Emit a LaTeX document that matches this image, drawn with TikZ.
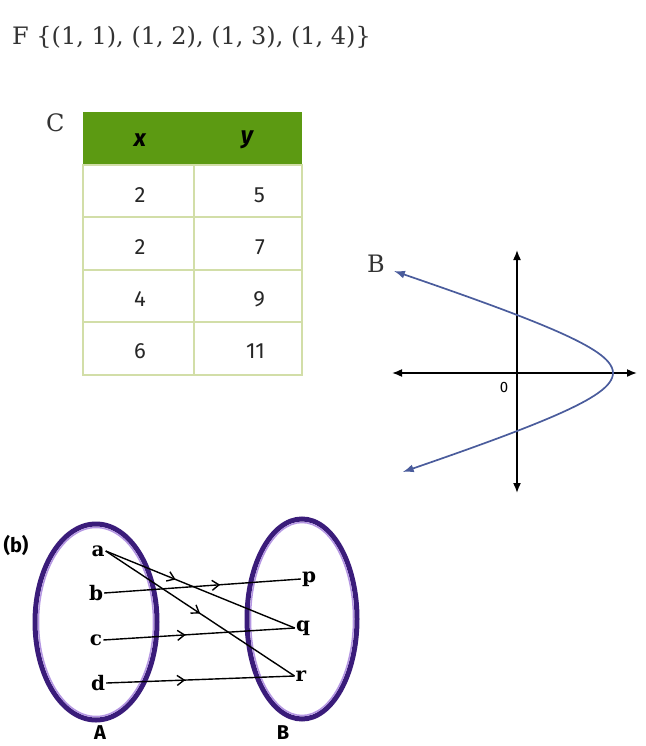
\documentclass[tikz,border=0pt]{standalone}
\usepackage{fontspec}
\setmainfont{DejaVu Serif}
\setsansfont{Fira Sans}
\usepackage{xcolor}
\usetikzlibrary{arrows.meta, positioning, decorations.markings}

\definecolor{inkgray}{HTML}{333333}
\definecolor{headgreen}{HTML}{5C9A12}
\definecolor{gridgreen}{HTML}{D2DEA8}
\definecolor{curveblue}{HTML}{4A5C9C}
\definecolor{setpurple}{HTML}{3A1C7A}
\definecolor{setlilac}{HTML}{B496E2}

\begin{document}
\begin{tikzpicture}[
  x=1pt, y=-1pt,
  serifbig/.style={font=\fontsize{24}{28}\selectfont, text=inkgray, inner sep=0pt},
  cellnum/.style={font=\sffamily\fontsize{22}{24}\selectfont, text=black!85, inner sep=0pt},
  cellhead/.style={font=\sffamily\bfseries\itshape\fontsize{24}{26}\selectfont, inner sep=0pt},
  axis/.style={line width=1.6pt, {Latex[length=10pt,width=8pt]}-{Latex[length=10pt,width=8pt]}},
  elem/.style={font=\bfseries\fontsize{20}{22}\selectfont, inner sep=1pt},
  setname/.style={font=\sffamily\bfseries\fontsize{20}{22}\selectfont, inner sep=0pt},
  maps/.style={line width=1.4pt, postaction={decorate},
    decoration={markings, mark=at position #1 with {\arrow{Straight Barb[length=7pt,width=10pt]}}}}
]
\useasboundingbox (0,0) rectangle (645,746);

% set F
\node[serifbig, anchor=base west] (setF) at (12,45) {F \{(1, 1), (1, 2), (1, 3), (1, 4)\}};

% table C
\node[serifbig, anchor=base west] (labC) at (46,132) {C};
\fill[headgreen] (83,112) rectangle (302,165);
\draw[gridgreen, line width=1.2pt] (83,165) rectangle (302,375);
\foreach \yy in {217,270,322} \draw[gridgreen, line width=1.2pt] (83,\yy) -- (302,\yy);
\draw[gridgreen, line width=1.2pt] (194,165) -- (194,375);
\node[cellhead] (hx) at (140,140) {x};
\node[cellhead] (hy) at (247,140) {y};
\foreach \xv/\yv/\yy [count=\i] in {2/5/195, 2/7/247, 4/9/299, 6/11/351} {
  \node[cellnum] (xv\i) at (140,\yy) {\xv};
  \node[cellnum, anchor=east] (yv\i) at (265,\yy) {\yv};
}

% graph B
\node[serifbig, anchor=base west] (labB) at (367,272) {B};
\draw[axis] (392,373) -- (637,373);
\draw[axis] (517,250) -- (517,493);
\node[font=\sffamily\fontsize{15}{16}\selectfont, inner sep=0pt] (orig) at (504,387) {0};
\draw[curveblue, line width=1.7pt, {Latex[length=11pt,width=8pt]}-{Latex[length=11pt,width=8pt]}]
  plot[domain=-102:99, samples=80, variable=\t] ({613-126*(sqrt(1+(\t/40)^2)-1)}, {373+\t});

% mapping (b)
\node[font=\sffamily\bfseries\fontsize{20}{22}\selectfont, inner sep=0pt] (partb) at (16,545) {(b)};
\draw[setpurple, line width=5pt] (96,622) ellipse [x radius=61, y radius=98];
\draw[setlilac, line width=1.5pt] (96,622) ellipse [x radius=57.5, y radius=94.5];
\draw[setpurple, line width=5pt] (302,619) ellipse [x radius=55, y radius=100];
\draw[setlilac, line width=1.5pt] (302,619) ellipse [x radius=51.5, y radius=96.5];
\node[setname] (nameA) at (100,733) {A};
\node[setname] (nameB) at (283,733) {B};

\node[elem] (a) at (98,551) {a};
\node[elem] (b) at (96,593) {b};
\node[elem] (c) at (96,640) {c};
\node[elem] (d) at (98,683) {d};
\node[elem] (p) at (309,579) {p};
\node[elem] (q) at (303,628) {q};
\node[elem] (r) at (301,676) {r};

\draw[maps=0.37] (a.east) -- (q.west);
\draw[maps=0.5] (a.east) -- (r.west);
\draw[maps=0.59] (b.east) -- (p.west);
\draw[maps=0.43] (c.east) -- (q.west);
\draw[maps=0.42] (d.east) -- (r.west);
\end{tikzpicture}
\end{document}
